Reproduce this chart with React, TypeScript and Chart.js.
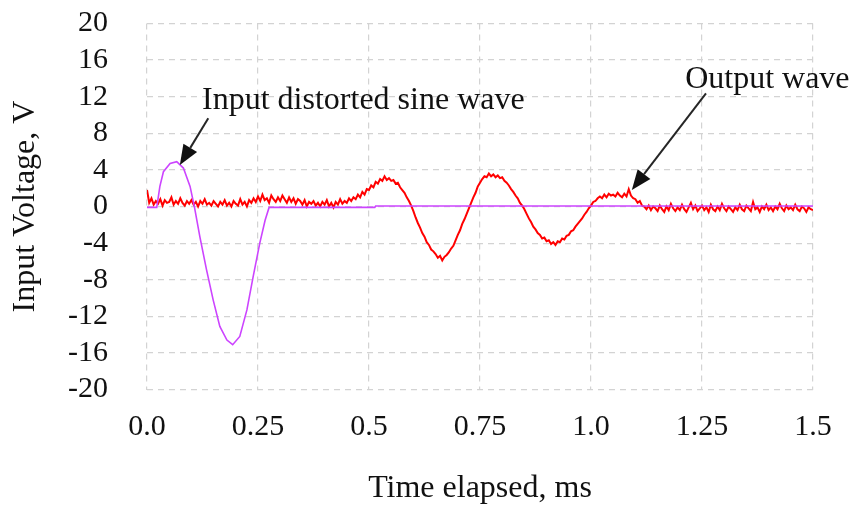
import React, { useEffect, useRef } from "react";
import { Chart, registerables } from "chart.js";

Chart.register(...registerables);

// ---- Data ----
const xTickValues = [0, 0.25, 0.5, 0.75, 1.0, 1.25, 1.5];
const xTickLabels = ["0.0", "0.25", "0.5", "0.75", "1.0", "1.25", "1.5"];
const yTickValues = [-20, -16, -12, -8, -4, 0, 4, 8, 12, 16, 20];

// Input distorted sine wave (magenta): time (ms) and voltage (V)
const inputTimes = [
  0, 0.022, 0.029, 0.037, 0.052, 0.067, 0.082, 0.097, 0.107, 0.119, 0.134, 0.149,
  0.164, 0.18, 0.193, 0.209, 0.225, 0.239, 0.254, 0.266, 0.275, 0.513, 0.515, 1.5,
];
const inputVolts = [
  -0.1, -0.1, 2.2, 3.8, 4.7, 4.9, 4.2, 2.2, -0.1, -3.3, -6.9, -10.2,
  -13.1, -14.6, -15.1, -14.2, -11.3, -7.7, -4.0, -1.5, -0.1, -0.1, 0.05, 0.05,
];

// Output wave (red): sampled every 0.005 ms from 0 ms
const outputStartMs = 0;
const outputStepMs = 0.005;
const outputVolts = [
  1.8, 0.4, 0.9, 0.2, 0.6, 0.3, 0.8, 0.1, 0.7, 0.4,
  0.5, 1.0, 0.2, 0.6, 0.3, 0.9, 0.4, 0.1, 0.6, 0.3,
  0.7, 0.2, 0.5, 0.0, 0.6, 0.3, 0.8, 0.2, 0.4, 0.1,
  0.6, 0.3, 0.0, 0.5, 0.2, 0.7, 0.1, 0.4, 0.0, 0.6,
  0.3, 0.1, 0.8, 0.2, 0.5, 0.0, 0.7, 0.4, 0.9, 0.5,
  1.1, 0.6, 1.3, 0.7, 0.9, 0.4, 1.2, 0.8, 0.5, 1.0,
  0.6, 1.2, 0.8, 0.4, 1.0, 0.5, 0.9, 0.3, 0.8, 0.6,
  0.2, 0.7, 0.0, 0.5, 0.3, 0.6, 0.1, 0.4, 0.0, 0.5,
  0.2, 0.7, 0.0, 0.4, -0.1, 0.5, 0.2, 0.8, 0.3, 0.6,
  0.4, 0.9, 0.6, 1.0, 0.8, 1.3, 1.0, 1.6, 1.3, 1.9,
  1.8, 2.3, 2.1, 2.7, 2.5, 3.0, 2.8, 3.3, 2.9, 3.1,
  2.8, 2.9, 2.5, 2.6, 2.1, 1.8, 1.5, 1.0, 0.6, 0.1,
  -0.5, -1.2, -1.8, -2.3, -2.9, -3.3, -3.9, -4.2, -4.7, -4.9,
  -5.2, -5.6, -5.4, -5.9, -5.5, -5.3, -5.0, -4.6, -4.3, -3.7,
  -3.1, -2.6, -1.9, -1.4, -0.8, -0.2, 0.4, 1.0, 1.5, 2.2,
  2.6, 3.0, 3.3, 3.2, 3.6, 3.3, 3.5, 3.2, 3.4, 3.1,
  3.2, 2.8, 2.6, 2.3, 1.9, 1.6, 1.2, 0.9, 0.4, 0.1,
  -0.3, -0.8, -1.3, -1.7, -2.2, -2.5, -2.9, -3.1, -3.5, -3.4,
  -3.8, -3.7, -4.1, -3.9, -4.2, -3.8, -3.9, -3.5, -3.6, -3.2,
  -3.1, -2.7, -2.6, -2.2, -1.9, -1.6, -1.3, -0.9, -0.6, -0.2,
  0.1, 0.5, 0.6, 0.9, 1.1, 0.9, 1.3, 1.0, 1.4, 1.2,
  1.3, 1.1, 1.5, 1.2, 1.0, 1.4, 1.1, 1.9, 1.2, 0.9,
  0.8, 0.4, 0.6, 0.1, 0.0, -0.3, 0.1, -0.4, 0.0, -0.2,
  -0.5, 0.1, -0.3, -0.6, 0.0, -0.4, 0.3, -0.2, -0.5, -0.1,
  -0.4, 0.2, -0.3, -0.6, -0.1, 0.4, -0.3, 0.1, -0.5, -0.2,
  0.1, -0.4, -0.1, -0.6, 0.2, -0.3, -0.5, 0.0, -0.4, 0.3,
  -0.2, -0.5, 0.0, -0.3, -0.6, -0.1, -0.4, 0.2, -0.3, -0.5,
  0.1, -0.2, -0.5, 0.5, -0.3, -0.1, -0.6, 0.0, -0.3, 0.2,
  -0.4, -0.1, -0.5, 0.0, -0.3, 0.3, -0.2, -0.5, 0.1, -0.3,
  -0.1, -0.4, 0.2, -0.3, -0.5, 0.0, -0.2, -0.6, -0.1, -0.3,
  -0.4,
];

// Annotations (data coordinates)
const annotationTexts = ["Input distorted sine wave", "Output wave"];
const annotationTextPos = [
  [0.124, 10.65],
  [1.212, 12.95],
];
const annotationArrowTail = [
  [0.138, 9.64],
  [1.259, 12.37],
];
const annotationArrowTip = [
  [0.074, 4.54],
  [1.092, 1.8],
];

const FONT = "'Liberation Serif', 'Times New Roman', serif";

const annotationPlugin = {
  id: "waveAnnotations",
  afterDatasetsDraw(chart: any) {
    const { ctx, scales } = chart;
    const xs = scales.x;
    const ys = scales.y;
    ctx.save();
    for (let i = 0; i < annotationTexts.length; i++) {
      const tx = xs.getPixelForValue(annotationTextPos[i][0]);
      const ty = ys.getPixelForValue(annotationTextPos[i][1]);
      ctx.font = `32px ${FONT}`;
      ctx.fillStyle = "#111111";
      ctx.textAlign = "left";
      ctx.textBaseline = "alphabetic";
      ctx.fillText(annotationTexts[i], tx, ty);

      const ax = xs.getPixelForValue(annotationArrowTail[i][0]);
      const ay = ys.getPixelForValue(annotationArrowTail[i][1]);
      const bx = xs.getPixelForValue(annotationArrowTip[i][0]);
      const by = ys.getPixelForValue(annotationArrowTip[i][1]);
      const ang = Math.atan2(by - ay, bx - ax);
      const headLen = 20;
      const headHalf = 8;
      const baseX = bx - headLen * Math.cos(ang);
      const baseY = by - headLen * Math.sin(ang);
      ctx.strokeStyle = "#262626";
      ctx.lineWidth = 2;
      ctx.beginPath();
      ctx.moveTo(ax, ay);
      ctx.lineTo(baseX, baseY);
      ctx.stroke();
      ctx.fillStyle = "#111111";
      ctx.beginPath();
      ctx.moveTo(bx, by);
      ctx.lineTo(baseX + headHalf * Math.sin(ang), baseY - headHalf * Math.cos(ang));
      ctx.lineTo(baseX - headHalf * Math.sin(ang), baseY + headHalf * Math.cos(ang));
      ctx.closePath();
      ctx.fill();
    }
    ctx.restore();
  },
};

export default function App() {
  const canvasRef = useRef<HTMLCanvasElement | null>(null);

  useEffect(() => {
    if (!canvasRef.current) return;
    const inputData = inputTimes.map((t, i) => ({ x: t, y: inputVolts[i] }));
    const outputData = outputVolts.map((v, i) => ({ x: outputStartMs + i * outputStepMs, y: v }));

    const chart = new Chart(canvasRef.current, {
      type: "line",
      data: {
        datasets: [
          {
            label: "Output wave",
            data: outputData,
            borderColor: "#ff0000",
            borderWidth: 2,
            pointRadius: 0,
            tension: 0,
            order: 2,
          },
          {
            label: "Input distorted sine wave",
            data: inputData,
            borderColor: "#cc44ff",
            borderWidth: 1.6,
            pointRadius: 0,
            tension: 0,
            order: 1,
          },
        ],
      },
      options: {
        animation: false,
        responsive: true,
        maintainAspectRatio: false,
        layout: { padding: { top: 23.5, right: 50, bottom: 0, left: 0 } },
        plugins: {
          legend: { display: false },
          tooltip: { enabled: false },
        },
        scales: {
          x: {
            type: "linear",
            min: 0,
            max: 1.5,
            afterBuildTicks: (scale: any) => {
              scale.ticks = xTickValues.map((v) => ({ value: v }));
            },
            afterFit: (scale: any) => {
              scale.height = 115.5;
            },
            ticks: {
              callback: (value: any) => {
                const idx = xTickValues.indexOf(Number(value));
                return idx >= 0 ? xTickLabels[idx] : "";
              },
              font: { family: FONT, size: 30 },
              color: "#111111",
              padding: 20,
              maxRotation: 0,
              autoSkip: false,
            },
            grid: { color: "#d3d3d3", lineWidth: 1.2, drawTicks: false },
            border: { display: false, dash: [6, 5] },
            title: {
              display: true,
              text: "Time elapsed, ms",
              font: { family: FONT, size: 32, lineHeight: 1.0 },
              color: "#111111",
              padding: { top: 0, bottom: 0 },
            },
          },
          y: {
            type: "linear",
            min: -20,
            max: 20,
            afterBuildTicks: (scale: any) => {
              scale.ticks = yTickValues.map((v) => ({ value: v }));
            },
            afterFit: (scale: any) => {
              scale.width = 147;
              scale.paddingTop = 18;
              scale.paddingBottom = 18;
            },
            ticks: {
              font: { family: FONT, size: 30 },
              color: "#111111",
              padding: 39,
              autoSkip: false,
            },
            grid: { color: "#d3d3d3", lineWidth: 1.2, drawTicks: false },
            border: { display: false, dash: [6, 5] },
            title: {
              display: true,
              text: "Input Voltage, V",
              font: { family: FONT, size: 32 },
              color: "#111111",
              padding: { top: 6, bottom: 0 },
            },
          },
        },
      },
      plugins: [annotationPlugin],
    });
    return () => chart.destroy();
  }, []);

  return (
    <div style={{ position: "fixed", left: 0, top: 0, width: 863, height: 505, background: "#ffffff" }}>
      <canvas ref={canvasRef} />
    </div>
  );
}
